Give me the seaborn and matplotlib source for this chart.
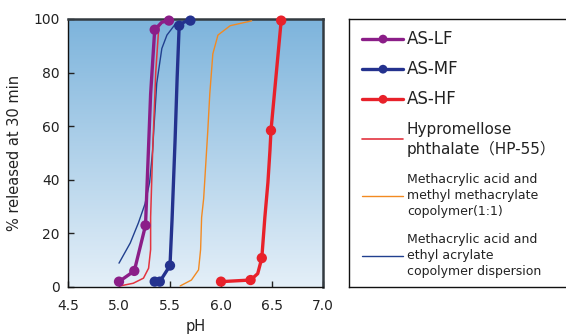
import numpy as np
import pandas as pd
import matplotlib
matplotlib.use("Agg")
import matplotlib.pyplot as plt
from matplotlib.colors import LinearSegmentedColormap
import seaborn as sns

sns.set_style("ticks")
plt.rcParams['font.family'] = ['DejaVu Sans', 'Noto Sans CJK JP']

# Marker points (pH, % released at 30 min)
lf_ph = [5.00, 5.15, 5.26, 5.35, 5.49]
lf_pct = [2, 6, 23, 96, 99.4]
mf_ph = [5.35, 5.40, 5.50, 5.59, 5.70]
mf_pct = [2, 2, 8, 97.5, 99.4]
hf_ph = [6.00, 6.29, 6.40, 6.49, 6.59]
hf_pct = [2, 2.6, 10.8, 58.4, 99.4]

# Curves through the markers
lf_curve_ph = [5.00, 5.15, 5.26, 5.27, 5.31, 5.35, 5.42, 5.49]
lf_curve_pct = [2, 6, 23, 33, 72, 96, 98.8, 99.4]
mf_curve_ph = [5.35, 5.40, 5.50, 5.52, 5.55, 5.57, 5.59, 5.64, 5.70]
mf_curve_pct = [2, 2, 8, 25, 55, 78, 97.5, 98.9, 99.4]
hf_curve_ph = [6.00, 6.29, 6.36, 6.40, 6.43, 6.46, 6.48, 6.49, 6.59]
hf_curve_pct = [2, 2.6, 5, 10.8, 26, 39, 51, 58.4, 99.4]

# Reference polymers (lines only)
hp55_ph = [5.01, 5.14, 5.24, 5.29, 5.31, 5.31, 5.33, 5.35, 5.36, 5.39, 5.43, 5.49]
hp55_pct = [0.4, 1.4, 3.3, 7, 14, 26, 51, 70, 80, 97, 99.2, 99.5]
mma_ph = [5.60, 5.71, 5.78, 5.80, 5.81, 5.83, 5.87, 5.89, 5.92, 5.97, 6.09, 6.30]
mma_pct = [0.4, 2.6, 6.4, 14, 26, 33, 58, 72, 87, 94, 97.5, 99.3]
ea_ph = [5.00, 5.11, 5.19, 5.255, 5.30, 5.33, 5.34, 5.37, 5.42, 5.47, 5.55, 5.60]
ea_pct = [8.9, 16.4, 23.9, 31, 39, 51, 58, 76, 89, 94, 98, 98.5]

c_lf = '#8b1e88'
c_mf = '#24328e'
c_hf = '#e8212a'
c_hp = '#e3343f'
c_mma = '#f28a22'
c_ea = '#21408f'

fig = plt.figure(figsize=(5.66, 3.36), dpi=100)
ax = fig.add_axes([68/566, 49/336, 255/566, 268/336])

# background gradient
grad = np.linspace(0, 1, 256).reshape(-1, 1)
cmap = LinearSegmentedColormap.from_list('bg', ['#e4eff8', '#7db4dc'])
ax.imshow(grad, extent=[4.5, 7.0, 0, 100], origin='lower', aspect='auto',
          cmap=cmap, zorder=0)

thin = dict(estimator=None, sort=False, ax=ax, zorder=3)
sns.lineplot(x=ea_ph, y=ea_pct, color=c_ea, linewidth=1.0, **thin)
sns.lineplot(x=mma_ph, y=mma_pct, color=c_mma, linewidth=1.0, **thin)
sns.lineplot(x=hp55_ph, y=hp55_pct, color=c_hp, linewidth=1.1, **thin)

for cx, cy, px, py, col in [(lf_curve_ph, lf_curve_pct, lf_ph, lf_pct, c_lf),
                            (mf_curve_ph, mf_curve_pct, mf_ph, mf_pct, c_mf),
                            (hf_curve_ph, hf_curve_pct, hf_ph, hf_pct, c_hf)]:
    sns.lineplot(x=cx, y=cy, color=col, linewidth=2.4, estimator=None,
                 sort=False, ax=ax, zorder=4, clip_on=False)
    sns.scatterplot(x=px, y=py, color=col, s=55, edgecolor='none',
                    ax=ax, zorder=5, clip_on=False)

ax.set_xlim(4.5, 7.0)
ax.set_ylim(0, 100)
ax.set_xticks([4.5, 5.0, 5.5, 6.0, 6.5, 7.0])
ax.set_xticklabels(['4.5', '5.0', '5.5', '6.0', '6.5', '7.0'])
ax.set_yticks([0, 20, 40, 60, 80, 100])
ax.tick_params(direction='in', length=4, width=1, labelsize=10,
               color='#222222', labelcolor='#222222')
ax.tick_params(axis='x', pad=9)
ax.tick_params(axis='y', pad=6)
ax.set_xlabel('pH', fontsize=10.5, labelpad=4, color='#222222')
ax.set_ylabel('% released at 30 min', fontsize=10.5, labelpad=8, color='#222222')
for s in ['left', 'bottom']:
    ax.spines[s].set_color('#111111')
    ax.spines[s].set_linewidth(1.0)
for s in ['top', 'right']:
    ax.spines[s].set_color('#333a40')
    ax.spines[s].set_linewidth(1.8)
    ax.spines[s].set_visible(True)

# legend panel, drawn in pixel coordinates
lg = fig.add_axes([349/566, 49/336, 1 - 349/566, 268/336])
lg.set_xlim(349, 566)
lg.set_ylim(287, 20)
lg.set_xticks([])
lg.set_yticks([])
lg.spines['right'].set_visible(False)
for s in ['left', 'top', 'bottom']:
    lg.spines[s].set_color('#111111')
    lg.spines[s].set_linewidth(1.0)

leg_marked = [('AS-LF', c_lf, 40), ('AS-MF', c_mf, 70), ('AS-HF', c_hf, 100)]
for label, col, y in leg_marked:
    sns.lineplot(x=[362, 403], y=[y, y], color=col, linewidth=2.4,
                 estimator=None, ax=lg)
    sns.scatterplot(x=[383], y=[y], color=col, s=40, edgecolor='none', ax=lg)
    lg.text(407, y, label, fontsize=12, va='center', ha='left', color='#222222')

leg_lines = [('Hypromellose\nphthalate\uff08HP-55\uff09', c_hp, 140, 11, 1.2),
             ('Methacrylic acid and\nmethyl methacrylate\ncopolymer(1:1)', c_mma, 196, 9, 1.0),
             ('Methacrylic acid and\nethyl acrylate\ncopolymer dispersion', c_ea, 256, 9, 1.0)]
for label, col, y, fs, lw in leg_lines:
    sns.lineplot(x=[362, 403], y=[y, y], color=col, linewidth=lw,
                 estimator=None, ax=lg)
    lg.text(407, y, label, fontsize=fs, va='center', ha='left',
            linespacing=1.3, color='#222222')
lg.set_xlabel('')
lg.set_ylabel('')

fig.savefig('out.png', dpi=100)
